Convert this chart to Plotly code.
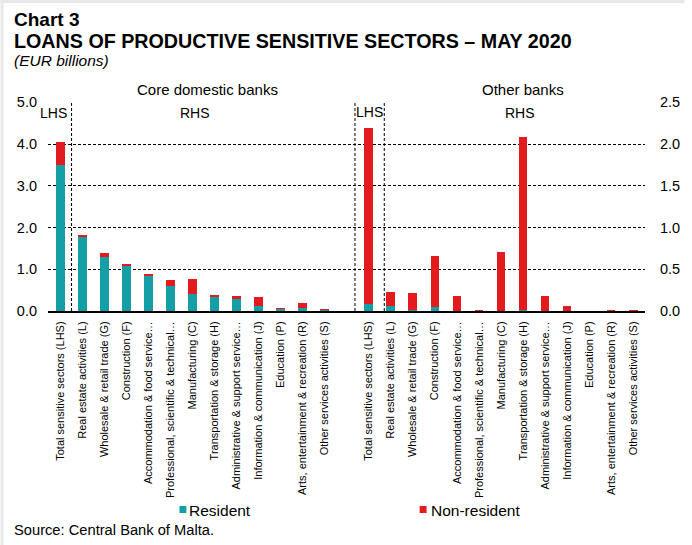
import plotly.graph_objects as go

# Sector labels (same order for both bank groups)
sectors = [
    "Total sensitive sectors (LHS)",
    "Real estate activities (L)",
    "Wholesale & retail trade (G)",
    "Construction (F)",
    "Accommodation & food service…",
    "Professional, scientific & technical…",
    "Manufacturing (C)",
    "Transportation & storage (H)",
    "Administrative & support service…",
    "Information & communication (J)",
    "Education (P)",
    "Arts, entertainment & recreation (R)",
    "Other services activities (S)",
]

# EUR billions; first element of each list is the total (left axis), the rest use the right axis
core_resident = [3.50, 0.888, 0.644, 0.548, 0.424, 0.300, 0.204, 0.176, 0.148, 0.060, 0.024, 0.032, 0.022]
core_nonresident = [0.55, 0.012, 0.048, 0.016, 0.020, 0.076, 0.180, 0.016, 0.036, 0.104, 0.006, 0.060, 0.002]
other_resident = [0.176, 0.064, 0.016, 0.052, 0.0, 0.0, 0.0, 0.016, 0.0, 0.0, 0.0, 0.0, 0.0]
other_nonresident = [4.20, 0.164, 0.200, 0.608, 0.184, 0.002, 0.708, 2.068, 0.184, 0.056, 0.0, 0.003, 0.003]

left_ticks = [0.0, 1.0, 2.0, 3.0, 4.0, 5.0]
right_ticks = [0.0, 0.5, 1.0, 1.5, 2.0, 2.5]

TEAL = "#139FA5"
RED = "#E31B1E"
FONT = "Liberation Sans, Arial, sans-serif"

W, H = 692, 545
L, R, T, B = 48, 692 - 652, 102, 545 - 311
PW, PH = W - L - R, H - T - B


def px_x(px):
    return (px - L) / PW


def px_y(py):
    return (H - B - py) / PH


# category positions: core banks 0..12, gap, other banks 14..26
n = len(sectors)
core_x = list(range(n))
other_x = [n + 1 + i for i in range(n)]

lhs_x = [core_x[0], other_x[0]]
rhs_x = core_x[1:] + other_x[1:]

fig = go.Figure()
bw = 0.4

fig.add_trace(go.Bar(x=lhs_x, y=[core_resident[0], other_resident[0]], marker_color=TEAL,
                     width=bw, name="Resident", showlegend=False, yaxis="y"))
fig.add_trace(go.Bar(x=lhs_x, y=[core_nonresident[0], other_nonresident[0]], marker_color=RED,
                     width=bw, name="Non-resident", showlegend=False, yaxis="y"))
fig.add_trace(go.Bar(x=rhs_x, y=core_resident[1:] + other_resident[1:], marker_color=TEAL,
                     width=bw, name="Resident", showlegend=False, yaxis="y2"))
fig.add_trace(go.Bar(x=rhs_x, y=core_nonresident[1:] + other_nonresident[1:], marker_color=RED,
                     width=bw, name="Non-resident", showlegend=False, yaxis="y2"))

fig.update_traces(marker_line_width=0)

ymax = 5.0 * 1.002
fig.update_layout(
    width=W, height=H, autosize=False,
    margin=dict(l=L, r=R, t=T, b=B, pad=0),
    paper_bgcolor="white", plot_bgcolor="white",
    barmode="stack", bargap=0,
    showlegend=False,
    font=dict(family=FONT, color="black"),
    xaxis=dict(
        range=[-0.57, 26.54],
        tickmode="array", tickvals=core_x + other_x, ticktext=sectors + sectors,
        tickangle=-90, tickfont=dict(size=11, family=FONT),
        showgrid=False, zeroline=False, showline=True, linecolor="black", linewidth=2,
        ticks="", ticklabelstandoff=4,
    ),
    yaxis=dict(
        range=[0, ymax], tickmode="array", tickvals=left_ticks,
        ticktext=[f"{v:.1f}" for v in left_ticks],
        tickfont=dict(size=14.5, family=FONT),
        showgrid=True, gridcolor="black", gridwidth=1, griddash="3px,2px",
        zeroline=False, showline=False, ticks="", ticklabelstandoff=10,
    ),
    yaxis2=dict(
        range=[0, ymax / 2], overlaying="y", side="right", tickmode="array",
        tickvals=right_ticks, ticktext=[f"{v:.1f}" for v in right_ticks],
        tickfont=dict(size=14.5, family=FONT),
        showgrid=False, zeroline=False, showline=False, ticks="", ticklabelstandoff=14,
    ),
)

# dashed separators marking the left-hand-scale columns
for xv in [0.5, 13.37, 14.7]:
    fig.add_shape(type="line", xref="x", yref="y", x0=xv, x1=xv, y0=0, y1=5.0,
                  line=dict(color="black", width=1, dash="3px,2px"), layer="above")

ann = []


def text(s, x, y, size, xanchor="center", bold=False, italic=False):
    if bold:
        s = f"<b>{s}</b>"
    if italic:
        s = f"<i>{s}</i>"
    ann.append(dict(text=s, x=px_x(x), y=px_y(y), xref="paper", yref="paper",
                    xanchor=xanchor, yanchor="middle", showarrow=False,
                    font=dict(size=size, family=FONT, color="black")))


text("Chart 3", 12, 19, 19, xanchor="left", bold=True)
text("LOANS OF PRODUCTIVE SENSITIVE SECTORS – MAY 2020", 12, 41, 19.7, xanchor="left", bold=True)
text("(EUR billions)", 12, 61, 15.5, xanchor="left", italic=True)

text("Core domestic banks", 209, 90, 15)
text("Other banks", 529, 90, 15)
text("LHS", 54, 113, 14)
text("RHS", 197, 113, 14)
text("LHS", 373, 112, 14)
text("RHS", 526, 113, 14)

text("Resident", 189, 510, 15.5, xanchor="left")
text("Non-resident", 433, 510, 15.5, xanchor="left")
text("Source: Central Bank of Malta.", 12, 530, 14.7, xanchor="left")

fig.update_layout(annotations=ann)

# legend swatches
for x0, col in [(181, TEAL), (424, RED)]:
    fig.add_shape(type="rect", xref="paper", yref="paper",
                  x0=px_x(x0), x1=px_x(x0 + 7), y0=px_y(513), y1=px_y(506),
                  fillcolor=col, line=dict(width=0))

# thin grey frame along the top and left edges
fig.add_shape(type="rect", xref="paper", yref="paper", x0=px_x(0), x1=px_x(W), y0=px_y(0), y1=px_y(3),
              fillcolor="#E8E8E8", line=dict(width=0))
fig.add_shape(type="rect", xref="paper", yref="paper", x0=px_x(0), x1=px_x(3), y0=px_y(0), y1=px_y(H),
              fillcolor="#E8E8E8", line=dict(width=0))

fig.write_html("out.html")
